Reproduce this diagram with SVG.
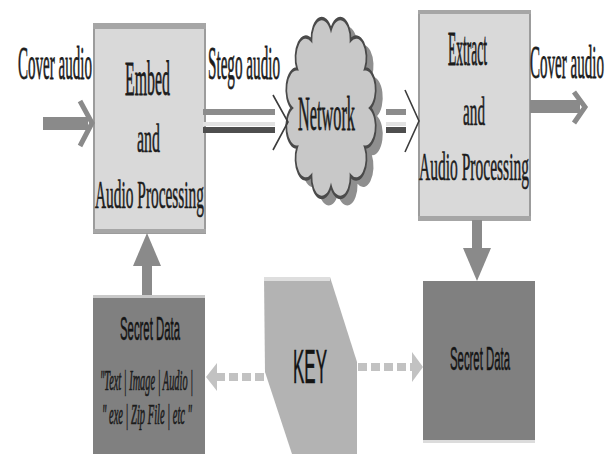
<svg xmlns="http://www.w3.org/2000/svg" width="611" height="454" viewBox="0 0 611 454">
<style>
.ser{font-family:"Liberation Serif","Times New Roman",serif;fill:#1c1c1c;stroke:#1c1c1c;stroke-width:0.25;}
.san{font-family:"Liberation Sans",Arial,sans-serif;fill:#141414;stroke:#141414;stroke-width:0.2;}
.box{fill:#d9d9d9;stroke:#9c9c9c;stroke-width:2;}
.band{fill:#a6a6a6;}
.dark{fill:#808080;}
.shaft{fill:#8a8a8a;}
.chev{fill:none;stroke:#8a8a8a;stroke-width:5;stroke-linejoin:miter;}
.thin{fill:none;stroke:#3c3c3c;stroke-width:1.6;}
.dash{fill:none;stroke:#c2c2c2;stroke-width:8;stroke-dasharray:9 4;}
.dhead{fill:#c2c2c2;}
</style>
<defs>
<path id="cloud" d="M0,-34 A9,9 0 0 1 17,-29.44 A9,9 0 0 1 29.44,-17 A9,9 0 0 1 34,0 A9,9 0 0 1 29.44,17 A9,9 0 0 1 17,29.44 A9,9 0 0 1 0,34 A9,9 0 0 1 -17,29.44 A9,9 0 0 1 -29.44,17 A9,9 0 0 1 -34,0 A9,9 0 0 1 -29.44,-17 A9,9 0 0 1 -17,-29.44 A9,9 0 0 1 0,-34 Z"/>
</defs>
<rect width="611" height="454" fill="#ffffff"/>

<g id="embed">
<rect class="box" x="94" y="24" width="111" height="209"/>
<rect class="band" x="93" y="23" width="113" height="6"/>
<rect class="band" x="93" y="229" width="113" height="4"/>
<text class="ser" transform="translate(125,95) scale(1,3.1)" font-size="16" textLength="45" lengthAdjust="spacingAndGlyphs">Embed</text>
<text class="ser" transform="translate(137,152) scale(1,2.5)" font-size="16" textLength="23" lengthAdjust="spacingAndGlyphs">and</text>
<text class="ser" transform="translate(95,208) scale(1,2.65)" font-size="15.4" textLength="109" lengthAdjust="spacingAndGlyphs">Audio Processing</text>
</g>

<g id="extract">
<rect class="box" x="419" y="11" width="111" height="209"/>
<rect class="band" x="418" y="10" width="113" height="4"/>
<rect class="band" x="418" y="216" width="113" height="5"/>
<text class="ser" transform="translate(448,65) scale(1,3.5)" font-size="14" textLength="39" lengthAdjust="spacingAndGlyphs">Extract</text>
<text class="ser" transform="translate(463,125) scale(1,2.5)" font-size="16" textLength="22" lengthAdjust="spacingAndGlyphs">and</text>
<text class="ser" transform="translate(419,180) scale(1,2.6)" font-size="15.4" textLength="110" lengthAdjust="spacingAndGlyphs">Audio Processing</text>
</g>

<g id="network">
<use href="#cloud" transform="translate(338,116) scale(1.15,2.3)" fill="#8f8f8f"/>
<use href="#cloud" transform="translate(331,108) scale(1.15,2.3)" fill="#c8c8c8" stroke="#4a4a4a" stroke-width="1.5" vector-effect="non-scaling-stroke"/>
<text class="ser" transform="translate(298,130) scale(1,3.0)" font-size="16.3" textLength="57" lengthAdjust="spacingAndGlyphs">Network</text>
</g>

<g id="secret-left">
<rect class="dark" x="93" y="295" width="112" height="159"/>
<rect fill="#c9c9c9" x="93" y="295" width="112" height="3"/>
<text class="san" transform="translate(120,340) scale(1,2.9)" font-size="11.4" textLength="60" lengthAdjust="spacingAndGlyphs">Secret Data</text>
<text class="ser" transform="translate(100,390) scale(1,2.9)" font-size="10.2" font-style="italic" textLength="93" lengthAdjust="spacingAndGlyphs">"Text | Image | Audio |</text>
<text class="ser" transform="translate(102,424) scale(1,2.9)" font-size="10.2" font-style="italic" textLength="90" lengthAdjust="spacingAndGlyphs">" exe | Zip File | etc "</text>
</g>

<g id="secret-right">
<rect class="dark" x="423" y="281" width="112" height="159"/>
<rect fill="#dcdcdc" x="423" y="440" width="112" height="3"/>
<text class="san" transform="translate(450,370) scale(1,2.9)" font-size="11.4" textLength="60" lengthAdjust="spacingAndGlyphs">Secret Data</text>
</g>

<g id="key">
<polygon points="264,277 330,277 357,362 357,454 292,454 265,372" fill="#b3b3b3"/>
<rect fill="#dedede" x="264" y="277" width="66" height="4"/>
<text class="san" transform="translate(293,383) scale(1,2.85)" font-size="17" textLength="34" lengthAdjust="spacingAndGlyphs">KEY</text>
</g>

<g id="connectors">
<rect class="shaft" x="43" y="117" width="45" height="13"/>
<polyline class="chev" points="80,101 92,123 80,146"/>
<text class="ser" transform="translate(18,79) scale(1,3.1)" font-size="15" textLength="74" lengthAdjust="spacingAndGlyphs">Cover audio</text>
<rect fill="#8c8c8c" x="203" y="109" width="72" height="6"/>
<rect fill="#e2e2e2" x="203" y="122" width="72" height="4"/>
<rect fill="#4e4e4e" x="203" y="127" width="72" height="6"/>
<polyline class="thin" points="273,95 288,122 273,150"/>
<text class="ser" transform="translate(208,79) scale(1,3.1)" font-size="15.2" textLength="72" lengthAdjust="spacingAndGlyphs">Stego audio</text>
<rect fill="#8c8c8c" x="386" y="109" width="20" height="6"/>
<rect fill="#e2e2e2" x="386" y="122" width="20" height="4"/>
<rect fill="#4e4e4e" x="386" y="127" width="20" height="6"/>
<polyline class="thin" points="405,90 419,121 405,152"/>
<rect class="shaft" x="530" y="100" width="50" height="13"/>
<polyline class="chev" points="574,92 585,107 574,123"/>
<text class="ser" transform="translate(530,78) scale(1,3.1)" font-size="15" textLength="74" lengthAdjust="spacingAndGlyphs">Cover audio</text>
<rect class="shaft" x="142" y="262" width="10" height="33"/>
<polygon class="shaft" points="133,266 161,266 147,233"/>
<rect class="shaft" x="472" y="220" width="10" height="32"/>
<polygon class="shaft" points="463,248 491,248 477,281"/>
<line class="dash" x1="264" y1="377" x2="216" y2="377"/>
<polygon class="dhead" points="206,377 217,363 217,391"/>
<line class="dash" x1="358" y1="367" x2="413" y2="367"/>
<polygon class="dhead" points="423,367 412,352 412,382"/>
</g>
</svg>
